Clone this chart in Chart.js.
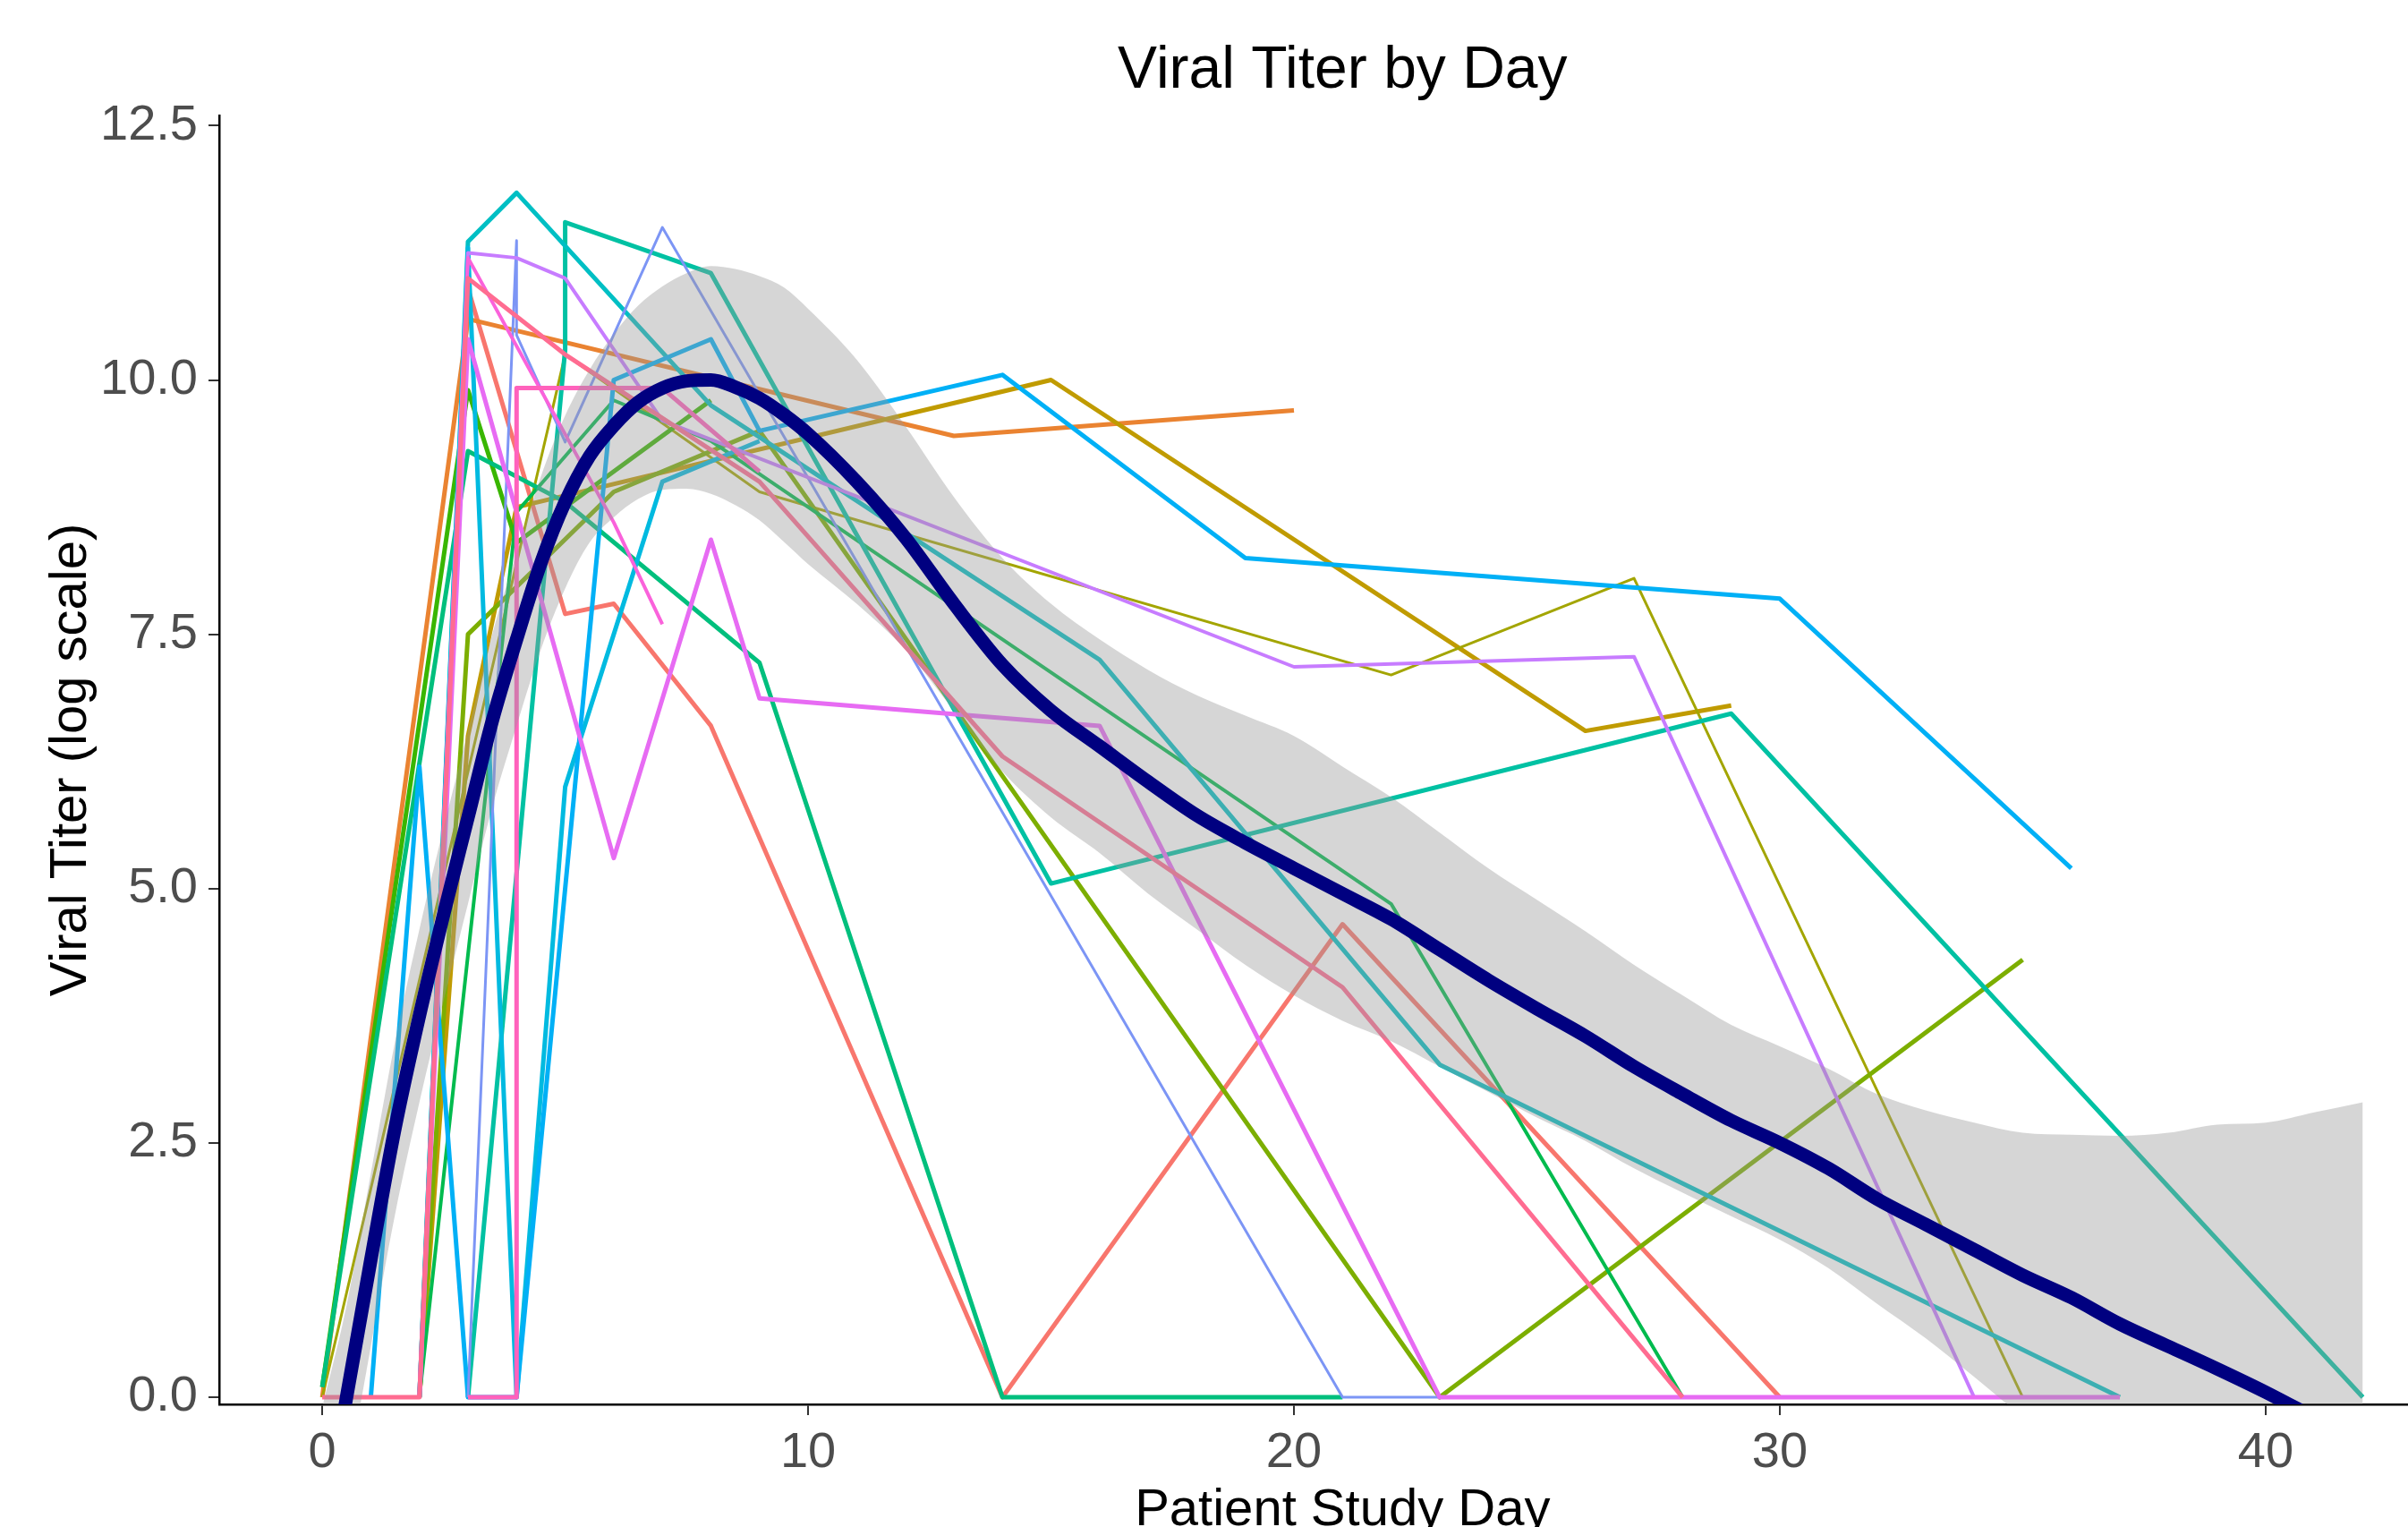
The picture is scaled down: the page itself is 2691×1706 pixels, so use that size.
<!DOCTYPE html>
<html>
<head>
<meta charset="utf-8">
<title>Viral Titer by Day</title>
<script src="https://cdn.jsdelivr.net/npm/chart.js@4.4.1/dist/chart.umd.min.js"></script>
<style>
  html, body { margin: 0; padding: 0; background: #fff; overflow: hidden; }
  #wrap { width: 2691px; height: 1706px; }
</style>
</head>
<body>
<div id="wrap"><canvas id="chart" width="2691" height="1706"></canvas></div>
<script>
// tick positions and labels
const dayTicks = [0, 10, 20, 30, 40];
const titerTicks = [0, 2.5, 5, 7.5, 10, 12.5];
const titerTickLabels = ['0.0', '2.5', '5.0', '7.5', '10.0', '12.5'];

// one trajectory per patient: study day and log titer
const p01Days = [2, 3, 5, 6, 8, 14, 21, 30];
const p01Titer = [0, 10.9, 7.7, 7.8, 6.6, 0, 4.65, 0];
const p02Days = [0, 3, 13, 20];
const p02Titer = [0, 10.6, 9.45, 9.7];
const p04Days = [2, 3, 4, 15, 26, 29];
const p04Titer = [0, 6.5, 8.75, 10.0, 6.55, 6.8];
const p05Days = [0, 4, 5, 9, 22, 27, 35];
const p05Titer = [0, 8.2, 10.25, 8.9, 7.1, 8.05, 0];
const p06Days = [2, 3, 6, 9, 23, 35];
const p06Titer = [0, 7.5, 8.9, 9.5, 0, 4.3];
const p07Days = [0, 3, 4, 8];
const p07Titer = [0.1, 9.9, 8.4, 9.8];
const p08Days = [2, 4, 6, 8, 22, 28];
const p08Titer = [0, 8.7, 9.8, 9.4, 4.85, 0];
const p09Days = [0, 3, 5, 9, 14, 21];
const p09Titer = [0.1, 9.3, 8.8, 7.22, 0, 0];
const p10Days = [3, 5, 5, 8, 15, 29, 42];
const p10Titer = [0, 10.3, 11.55, 11.05, 5.05, 6.72, 0];
const p11Days = [2, 3, 4, 8, 16, 23, 37];
const p11Titer = [0, 11.36, 11.84, 9.75, 7.25, 3.27, 0];
const p12Days = [2, 3, 4, 5, 7, 9];
const p12Titer = [0, 11.3, 0, 6.0, 9.0, 9.4];
const p13Days = [1, 2, 3, 4, 6, 8, 9, 14, 19, 30, 36];
const p13Titer = [0, 6.2, 0, 0, 10.0, 10.4, 9.5, 10.05, 8.25, 7.85, 5.2];
const p15Days = [3, 4, 4, 5, 7, 21, 23];
const p15Titer = [0, 11.37, 10.44, 9.39, 11.5, 0, 0];
const p16Days = [2, 3, 4, 5, 7, 20, 27, 34];
const p16Titer = [0, 11.25, 11.2, 11.0, 9.6, 7.18, 7.28, 0];
const p17Days = [2, 3, 6, 8, 9, 16, 23, 37];
const p17Titer = [0, 10.4, 5.3, 8.43, 6.87, 6.6, 0, 0];
const p18Days = [2, 3, 6, 7];
const p18Titer = [0, 11.2, 8.6, 7.6];
const p19Days = [3, 4, 4, 7, 9];
const p19Titer = [0, 0, 9.92, 9.92, 9.1];
const p20Days = [0, 2, 3, 5, 9, 14, 21, 28];
const p20Titer = [0, 0, 11.0, 10.25, 9.0, 6.3, 4.03, 0];

// loess fit with its confidence band
const fitDays = [0, 0.5, 1, 1.5, 2, 2.5, 3, 3.5, 4, 4.5, 5, 5.5, 6, 6.5, 7, 7.5, 8, 8.5, 9, 9.5, 10,
  11, 12, 13, 14, 15, 16, 17, 18, 19, 20, 21, 22, 23, 24, 25, 26, 27, 28, 29, 30,
  31, 32, 33, 34, 35, 36, 37, 38, 39, 40, 41, 42];
const fitTiter = [-1.4, 0, 1.35, 2.65, 3.75, 4.75, 5.7, 6.65, 7.45, 8.2, 8.8, 9.25, 9.55, 9.78, 9.92, 9.99, 10.0, 9.93, 9.82, 9.66, 9.47,
  9.0, 8.45, 7.8, 7.2, 6.75, 6.4, 6.05, 5.72, 5.45, 5.2, 4.95, 4.7, 4.4, 4.1, 3.82, 3.55, 3.25, 2.98, 2.72, 2.5,
  2.25, 1.95, 1.7, 1.45, 1.2, 0.98, 0.72, 0.5, 0.28, 0.05, -0.2, -0.45];
const fitUpper = [-0.1, 0.9, 2.2, 3.5, 4.6, 5.6, 6.55, 7.5, 8.3, 9.05, 9.65, 10.1, 10.45, 10.73, 10.92, 11.05, 11.12, 11.09, 11.02, 10.91, 10.7,
  10.2, 9.55, 8.85, 8.25, 7.8, 7.45, 7.15, 6.9, 6.7, 6.5, 6.2, 5.9, 5.55, 5.2, 4.89, 4.58, 4.25, 3.95, 3.66, 3.45,
  3.23, 2.98, 2.82, 2.7, 2.6, 2.58, 2.57, 2.6, 2.68, 2.7, 2.8, 2.9];
const fitLower = [-2.7, -0.9, 0.5, 1.8, 2.9, 3.9, 4.85, 5.8, 6.6, 7.35, 7.95, 8.4, 8.65, 8.83, 8.92, 8.93, 8.88, 8.77, 8.62, 8.41, 8.19,
  7.8, 7.35, 6.75, 6.15, 5.7, 5.35, 4.95, 4.6, 4.25, 3.95, 3.7, 3.5, 3.25, 3.0, 2.75, 2.52, 2.25, 2.01, 1.78, 1.55,
  1.27, 0.92, 0.58, 0.2, -0.2, -0.62, -1.13, -1.6, -2.12, -2.6, -3.2, -3.8];

const patients = [
  [p01Days, p01Titer], [p02Days, p02Titer], [p04Days, p04Titer], [p05Days, p05Titer],
  [p06Days, p06Titer], [p07Days, p07Titer], [p08Days, p08Titer], [p09Days, p09Titer],
  [p10Days, p10Titer], [p11Days, p11Titer], [p12Days, p12Titer], [p13Days, p13Titer],
  [p15Days, p15Titer], [p16Days, p16Titer], [p17Days, p17Titer], [p18Days, p18Titer],
  [p19Days, p19Titer], [p20Days, p20Titer]
];
const patientColors = [
  '#F8766D', '#EA8331', '#C09B00', '#A3A500', '#7CAE00', '#39B600', '#00BB4E', '#00BF7D',
  '#00C1A3', '#00BFC4', '#00BAE0', '#00B0F6', '#7C95F5', '#C77CFF', '#E76BF3', '#FA62DB',
  '#FF62BC', '#FF6C91'
];
const patientWidths = [5, 5, 5, 3, 5, 5, 4, 5, 5, 5, 5, 5, 3, 4, 5, 4, 5, 5];

const FONT = '"Liberation Sans", Arial, Helvetica, sans-serif';

function toPoints(days, values) {
  return days.map((d, i) => ({ x: d, y: values[i] }));
}

const datasets = [];
patients.forEach((p, i) => {
  datasets.push({
    data: toPoints(p[0], p[1]),
    borderColor: patientColors[i],
    borderWidth: patientWidths[i],
    pointRadius: 0,
    fill: false,
    order: 100 - i
  });
});

// grey confidence band (drawn over the patient lines, like geom_smooth)
const lowerIndex = datasets.length;
datasets.push({
  data: toPoints(fitDays, fitLower),
  borderColor: 'rgba(0,0,0,0)',
  borderWidth: 1,
  pointRadius: 0,
  cubicInterpolationMode: 'monotone',
  fill: false,
  order: 2
});
datasets.push({
  data: toPoints(fitDays, fitUpper),
  borderColor: 'rgba(0,0,0,0)',
  borderWidth: 1,
  pointRadius: 0,
  cubicInterpolationMode: 'monotone',
  fill: { target: lowerIndex },
  backgroundColor: 'rgba(153,153,153,0.4)',
  order: 1
});
// navy smooth line on top
datasets.push({
  data: toPoints(fitDays, fitTiter),
  borderColor: '#000080',
  borderWidth: 15,
  pointRadius: 0,
  cubicInterpolationMode: 'monotone',
  fill: false,
  clip: 0,
  order: 0
});

// title and axis titles
const textPlugin = {
  id: 'textPlugin',
  afterDraw(chart) {
    const ctx = chart.ctx;
    const area = chart.chartArea;
    const cx = chart.scales.x.getPixelForValue(21);
    ctx.save();
    ctx.fillStyle = '#000';
    ctx.textAlign = 'center';
    ctx.textBaseline = 'alphabetic';
    ctx.font = '66px ' + FONT;
    ctx.fillText('Viral Titer by Day', cx, 98);
    ctx.font = '58px ' + FONT;
    ctx.fillText('Patient Study Day', cx, 1704);
    ctx.translate(96, (area.top + area.bottom) / 2);
    ctx.rotate(-Math.PI / 2);
    ctx.fillText('Viral Titer (log scale)', 0, 0);
    ctx.restore();
  }
};

new Chart(document.getElementById('chart'), {
  type: 'line',
  data: { datasets: datasets },
  options: {
    responsive: false,
    animation: false,
    events: [],
    layout: { padding: { left: 0, right: 0, top: 129, bottom: 0 } },
    elements: { line: { tension: 0, borderJoinStyle: 'round' }, point: { radius: 0 } },
    plugins: {
      legend: { display: false },
      tooltip: { enabled: false },
      title: { display: false }
    },
    scales: {
      x: {
        type: 'linear',
        min: -2.12,
        max: 42.93,
        afterFit: s => { s.height = 1706 - 1569; },
        afterBuildTicks: s => { s.ticks = dayTicks.map(v => ({ value: v })); },
        ticks: {
          font: { family: FONT, size: 56 },
          color: '#4D4D4D',
          padding: 9,
          maxRotation: 0,
          autoSkip: false,
          callback: v => String(v)
        },
        grid: { display: true, drawOnChartArea: false, drawTicks: true, tickLength: 12, color: '#333333', lineWidth: 2 },
        border: { display: true, color: '#000000', width: 2.5 }
      },
      y: {
        type: 'linear',
        min: -0.07,
        max: 12.6,
        afterFit: s => { s.width = 245; },
        afterBuildTicks: s => { s.ticks = titerTicks.map(v => ({ value: v })); },
        ticks: {
          font: { family: FONT, size: 56 },
          color: '#4D4D4D',
          padding: 12,
          autoSkip: false,
          callback: (v, i) => titerTickLabels[i]
        },
        grid: { display: true, drawOnChartArea: false, drawTicks: true, tickLength: 12, color: '#333333', lineWidth: 2 },
        border: { display: true, color: '#000000', width: 2.5 }
      }
    }
  },
  plugins: [textPlugin]
});
</script>
</body>
</html>
